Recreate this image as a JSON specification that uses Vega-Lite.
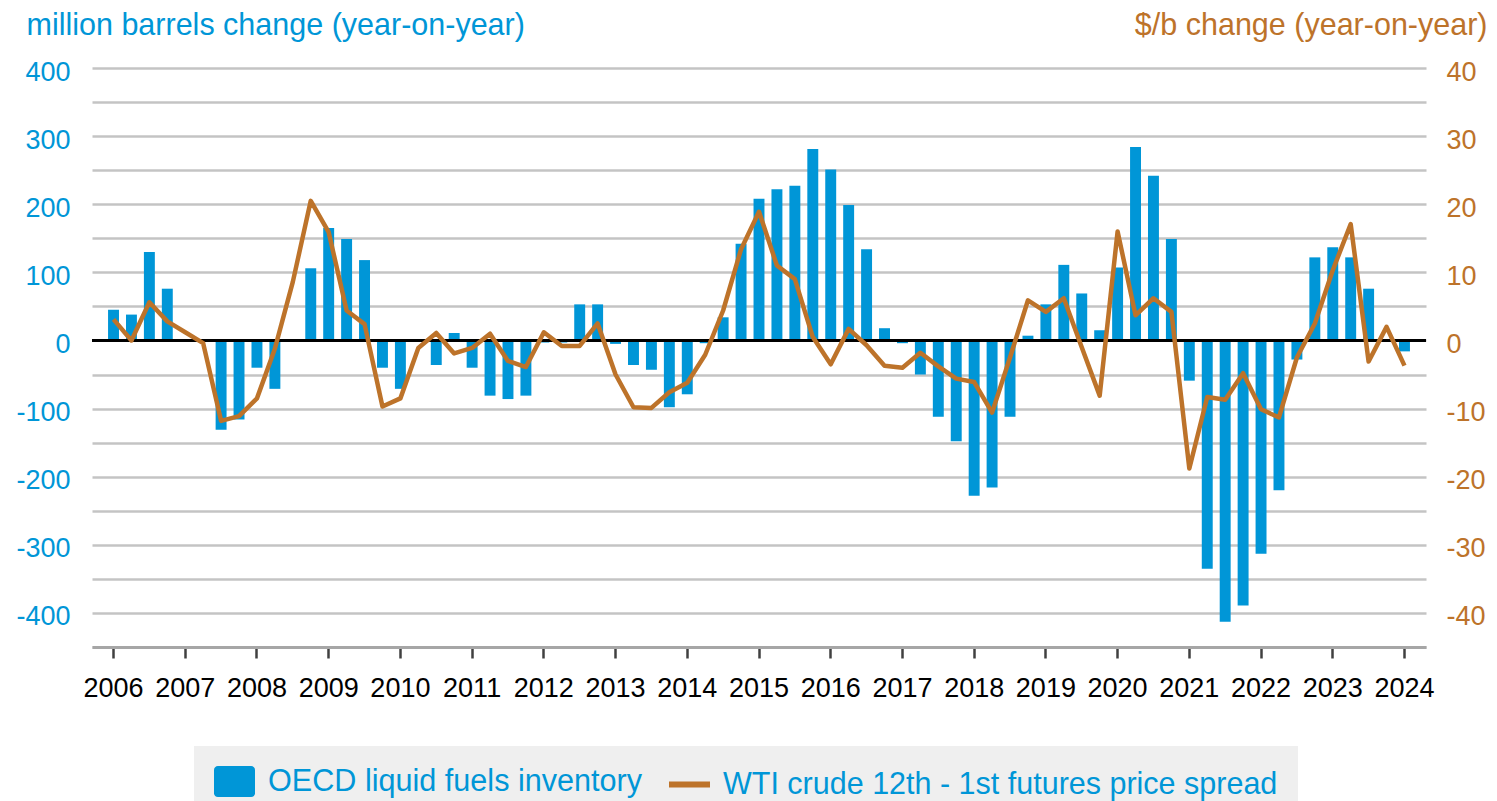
{
  "$schema": "https://vega.github.io/schema/vega-lite/v6.json",
  "width": 1334,
  "height": 579,
  "autosize": {"type": "none"},
  "padding": {"left": 92, "top": 68, "right": 71, "bottom": 154},
  "background": "white",
  "config": {
    "font": "Liberation Sans",
    "view": {"stroke": null},
    "axis": {"labelFont": "Liberation Sans", "titleFont": "Liberation Sans"},
    "legend": {"labelFont": "Liberation Sans"}
  },
  "data": {"values": [
    {"quarter": "2006Q1", "inventory": 45, "spread": 3.1},
    {"quarter": "2006Q2", "inventory": 38, "spread": 0.0},
    {"quarter": "2006Q3", "inventory": 130, "spread": 5.6},
    {"quarter": "2006Q4", "inventory": 76, "spread": 2.8},
    {"quarter": "2007Q1", "inventory": 0, "spread": 1.2},
    {"quarter": "2007Q2", "inventory": 0, "spread": -0.4},
    {"quarter": "2007Q3", "inventory": -131, "spread": -11.8},
    {"quarter": "2007Q4", "inventory": -116, "spread": -11.1},
    {"quarter": "2008Q1", "inventory": -40, "spread": -8.5},
    {"quarter": "2008Q2", "inventory": -71, "spread": -1.2},
    {"quarter": "2008Q3", "inventory": 0, "spread": 8.6},
    {"quarter": "2008Q4", "inventory": 106, "spread": 20.5},
    {"quarter": "2009Q1", "inventory": 165, "spread": 15.9},
    {"quarter": "2009Q2", "inventory": 149, "spread": 4.4},
    {"quarter": "2009Q3", "inventory": 118, "spread": 2.4},
    {"quarter": "2009Q4", "inventory": -40, "spread": -9.7},
    {"quarter": "2010Q1", "inventory": -71, "spread": -8.5},
    {"quarter": "2010Q2", "inventory": 0, "spread": -1.1},
    {"quarter": "2010Q3", "inventory": -36, "spread": 1.1},
    {"quarter": "2010Q4", "inventory": 11, "spread": -1.9},
    {"quarter": "2011Q1", "inventory": -40, "spread": -1.1},
    {"quarter": "2011Q2", "inventory": -81, "spread": 1.0},
    {"quarter": "2011Q3", "inventory": -86, "spread": -3.0},
    {"quarter": "2011Q4", "inventory": -81, "spread": -3.9},
    {"quarter": "2012Q1", "inventory": -3, "spread": 1.2},
    {"quarter": "2012Q2", "inventory": -3, "spread": -0.8},
    {"quarter": "2012Q3", "inventory": 53, "spread": -0.8},
    {"quarter": "2012Q4", "inventory": 53, "spread": 2.5},
    {"quarter": "2013Q1", "inventory": -5, "spread": -5.0},
    {"quarter": "2013Q2", "inventory": -36, "spread": -9.8},
    {"quarter": "2013Q3", "inventory": -43, "spread": -9.9},
    {"quarter": "2013Q4", "inventory": -98, "spread": -7.6},
    {"quarter": "2014Q1", "inventory": -79, "spread": -6.2},
    {"quarter": "2014Q2", "inventory": -4, "spread": -2.1},
    {"quarter": "2014Q3", "inventory": 34, "spread": 4.4},
    {"quarter": "2014Q4", "inventory": 142, "spread": 13.4},
    {"quarter": "2015Q1", "inventory": 208, "spread": 18.9},
    {"quarter": "2015Q2", "inventory": 222, "spread": 11.0},
    {"quarter": "2015Q3", "inventory": 227, "spread": 9.0},
    {"quarter": "2015Q4", "inventory": 281, "spread": 0.5},
    {"quarter": "2016Q1", "inventory": 251, "spread": -3.5},
    {"quarter": "2016Q2", "inventory": 199, "spread": 1.7},
    {"quarter": "2016Q3", "inventory": 134, "spread": -0.7},
    {"quarter": "2016Q4", "inventory": 18, "spread": -3.7},
    {"quarter": "2017Q1", "inventory": -4, "spread": -4.0},
    {"quarter": "2017Q2", "inventory": -50, "spread": -1.8},
    {"quarter": "2017Q3", "inventory": -112, "spread": -3.8},
    {"quarter": "2017Q4", "inventory": -148, "spread": -5.6},
    {"quarter": "2018Q1", "inventory": -228, "spread": -6.1},
    {"quarter": "2018Q2", "inventory": -216, "spread": -10.6},
    {"quarter": "2018Q3", "inventory": -112, "spread": -2.5},
    {"quarter": "2018Q4", "inventory": 7, "spread": 5.9},
    {"quarter": "2019Q1", "inventory": 53, "spread": 4.2},
    {"quarter": "2019Q2", "inventory": 111, "spread": 6.2},
    {"quarter": "2019Q3", "inventory": 69, "spread": -1.0},
    {"quarter": "2019Q4", "inventory": 15, "spread": -8.1},
    {"quarter": "2020Q1", "inventory": 107, "spread": 16.0},
    {"quarter": "2020Q2", "inventory": 284, "spread": 3.7},
    {"quarter": "2020Q3", "inventory": 242, "spread": 6.2},
    {"quarter": "2020Q4", "inventory": 149, "spread": 4.2},
    {"quarter": "2021Q1", "inventory": -59, "spread": -18.8},
    {"quarter": "2021Q2", "inventory": -335, "spread": -8.3},
    {"quarter": "2021Q3", "inventory": -413, "spread": -8.7},
    {"quarter": "2021Q4", "inventory": -389, "spread": -4.8},
    {"quarter": "2022Q1", "inventory": -313, "spread": -10.1},
    {"quarter": "2022Q2", "inventory": -220, "spread": -11.3},
    {"quarter": "2022Q3", "inventory": -28, "spread": -2.5},
    {"quarter": "2022Q4", "inventory": 122, "spread": 2.5},
    {"quarter": "2023Q1", "inventory": 137, "spread": 10.3},
    {"quarter": "2023Q2", "inventory": 122, "spread": 17.1},
    {"quarter": "2023Q3", "inventory": 76, "spread": -3.1},
    {"quarter": "2023Q4", "inventory": -2, "spread": 2.0},
    {"quarter": "2024Q1", "inventory": -16, "spread": -3.7}
  ]},
  "layer": [
    {
      "mark": {"type": "bar"},
      "encoding": {
        "x": {
          "field": "quarter", "type": "ordinal", "sort": null,
          "scale": {"type": "band", "paddingInner": 0.39, "paddingOuter": 0.895},
          "axis": {
            "values": ["2006Q1","2007Q1","2008Q1","2009Q1","2010Q1","2011Q1","2012Q1","2013Q1","2014Q1","2015Q1","2016Q1","2017Q1","2018Q1","2019Q1","2020Q1","2021Q1","2022Q1","2023Q1","2024Q1"],
            "labelExpr": "slice(datum.value, 0, 4)",
            "title": null, "grid": false,
            "domainColor": "#a6a6a6", "domainWidth": 3,
            "tickColor": "#404040", "tickWidth": 2.5, "tickSize": 11,
            "labelFontSize": 27, "labelColor": "#000000", "labelPadding": 17,
            "labelAngle": 0, "labelOverlap": false, "labelFlush": false
          }
        },
        "y": {
          "field": "inventory", "type": "quantitative",
          "scale": {"domain": [-450, 400], "nice": false, "zero": false},
          "axis": {
            "title": "million barrels change (year-on-year)",
            "orient": "left",
            "tickCount": 17,
            "labelExpr": "datum.value % 100 === 0 ? '' + datum.value : ''",
            "domain": false, "ticks": false, "tickSize": 0,
            "grid": true, "gridColor": "#c4c4c4", "gridWidth": 2.5,
            "labelFontSize": 27, "labelColor": "#0096D7", "labelPadding": 22, "labelOffset": 4,
            "labelOverlap": false, "labelFlush": false,
            "titleAngle": 0, "titleAlign": "left", "titleBaseline": "alphabetic",
            "titleX": -66, "titleY": -34, "titleFontSize": 30.5, "titleFontWeight": "normal",
            "titleColor": "#0096D7"
          }
        },
        "fill": {
          "datum": "OECD liquid fuels inventory", "type": "nominal",
          "scale": {"range": ["#0096D7"]},
          "legend": {
            "orient": "none", "legendX": 102, "legendY": 678, "title": null,
            "symbolType": "M-1.0726,-1H1.0726A0.25,0.25 0 0 1 1.3226,-0.75V0.75A0.25,0.25 0 0 1 1.0726,1H-1.0726A0.25,0.25 0 0 1 -1.3226,0.75V-0.75A0.25,0.25 0 0 1 -1.0726,-1Z",
            "symbolSize": 961, "symbolOffset": 5, "symbolStrokeWidth": 0, "symbolOpacity": 1,
            "labelOffset": 18, "labelFontSize": 30.6, "labelColor": "#0096D7", "labelLimit": 1000,
            "padding": 20, "fillColor": "#efefef"
          }
        }
      }
    },
    {
      "data": {"values": [{"baseline": 0}]},
      "mark": {"type": "rule", "color": "#000000", "strokeWidth": 3},
      "encoding": {
        "y": {
          "field": "baseline", "type": "quantitative",
          "scale": {"domain": [-450, 400], "nice": false, "zero": false},
          "axis": null
        }
      }
    },
    {
      "mark": {"type": "line", "strokeWidth": 4.5, "strokeJoin": "round"},
      "encoding": {
        "x": {
          "field": "quarter", "type": "ordinal", "sort": null,
          "scale": {"type": "band", "paddingInner": 0.39, "paddingOuter": 0.895},
          "axis": {
            "values": ["2006Q1","2007Q1","2008Q1","2009Q1","2010Q1","2011Q1","2012Q1","2013Q1","2014Q1","2015Q1","2016Q1","2017Q1","2018Q1","2019Q1","2020Q1","2021Q1","2022Q1","2023Q1","2024Q1"],
            "labelExpr": "slice(datum.value, 0, 4)",
            "title": null, "grid": false,
            "domainColor": "#a6a6a6", "domainWidth": 3,
            "tickColor": "#404040", "tickWidth": 2.5, "tickSize": 11,
            "labelFontSize": 27, "labelColor": "#000000", "labelPadding": 17,
            "labelAngle": 0, "labelOverlap": false, "labelFlush": false
          }
        },
        "y": {
          "field": "spread", "type": "quantitative",
          "scale": {"domain": [-45, 40], "nice": false, "zero": false},
          "axis": {
            "title": "$/b change (year-on-year)",
            "orient": "right",
            "values": [-40,-30,-20,-10,0,10,20,30,40],
            "labelExpr": "'' + datum.value",
            "domain": false, "ticks": false, "tickSize": 0, "grid": false,
            "labelFontSize": 27, "labelColor": "#BD732A", "labelPadding": 20, "labelOffset": 4,
            "labelOverlap": false, "labelFlush": false,
            "titleAngle": 0, "titleAlign": "right", "titleBaseline": "alphabetic",
            "titleX": 61, "titleY": -34, "titleFontSize": 30.5, "titleFontWeight": "normal",
            "titleColor": "#BD732A"
          }
        },
        "stroke": {
          "datum": "WTI crude 12th - 1st futures price spread", "type": "nominal",
          "scale": {"range": ["#BD732A"]},
          "legend": {
            "orient": "none", "legendX": 557, "legendY": 678, "title": null,
            "symbolType": "M-1.3226,0H1.3226",
            "symbolSize": 961, "symbolOffset": 2, "symbolStrokeWidth": 6,
            "labelOffset": 15, "labelFontSize": 30.5, "labelColor": "#0096D7", "labelLimit": 1000,
            "padding": 20, "fillColor": "#efefef"
          }
        }
      }
    }
  ],
  "resolve": {"scale": {"y": "independent"}}
}
